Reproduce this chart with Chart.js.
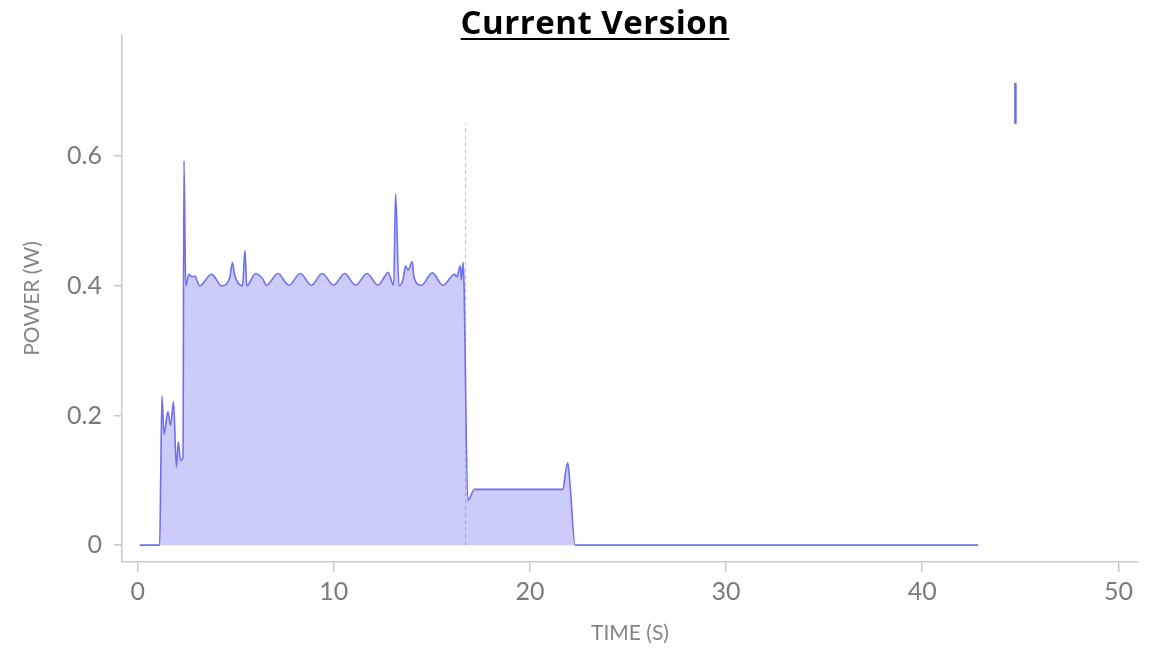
<!DOCTYPE html>
<html>
<head>
<meta charset="utf-8">
<script src="https://cdn.jsdelivr.net/npm/chart.js@4"></script>
<style>
  body{margin:0;background:#fff;}
  #wrap{position:relative;width:1153px;height:651px;}
  #title{position:absolute;top:0;left:0;width:1190px;text-align:center;
    font-family:"Open Sans",sans-serif;font-weight:bold;font-size:33px;color:#000;letter-spacing:0.5px;
    text-decoration:underline;text-decoration-thickness:2px;text-underline-offset:4px;line-height:44px;}
</style>
</head>
<body>
<div id="wrap">
  <div id="title">Current Version</div>
  <canvas id="mychart"></canvas>
</div>
<script>
// time (s) and power (W)
const Time=[0.10,1.12,1.18,1.24,1.34,1.54,1.67,1.83,1.97,2.07,2.19,2.31,2.36,2.45,2.61,2.77,2.91,3.16,3.76,3.92,4.27,4.69,4.83,4.94,5.34,5.47,5.56,6.01,6.39,6.56,7.15,7.71,8.29,8.85,9.41,9.99,10.55,11.11,11.69,12.25,12.60,12.76,13.05,13.15,13.32,13.52,13.66,13.78,14.00,14.08,14.46,15.02,15.56,16.16,16.27,16.45,16.50,16.60,16.64,16.83,17.18,21.68,21.81,21.93,22.05,22.30,42.85]
const Power=[0,0,0.12,0.230,0.171,0.206,0.185,0.221,0.120,0.159,0.131,0.135,0.593,0.400,0.418,0.414,0.415,0.400,0.418,0.414,0.400,0.412,0.436,0.417,0.400,0.454,0.400,0.419,0.410,0.401,0.419,0.401,0.419,0.401,0.419,0.401,0.419,0.401,0.419,0.401,0.415,0.421,0.401,0.542,0.400,0.409,0.431,0.424,0.437,0.414,0.401,0.420,0.401,0.418,0.414,0.431,0.409,0.436,0.400,0.069,0.086,0.086,0.112,0.127,0.090,0,0]

const CursorTime=[16.72,16.72]
const CursorPower=[0,0.65]
const MarkTime=[44.75,44.75]
const MarkPower=[0.65,0.713]

const XTicks=[0,10,20,30,40,50]
const YTicks=[0,0.2,0.4,0.6]

const pts=(xs,ys)=>xs.map((x,i)=>({x:x,y:ys[i]}))

const tickFont={family:"Lato",size:25}
const titleFont={family:"Lato",size:21}

new Chart("mychart",{
    type:"line",
    data:{
        datasets:[{
                label:"Power",
                data:pts(Time,Power),
                borderColor:"#6f6ff0",
                backgroundColor:"rgba(110,110,240,0.35)",
                borderWidth:1.6,
                fill:"origin",
                cubicInterpolationMode:"monotone",
                pointRadius:0,
            },
            {
                label:"cursor",
                data:pts(CursorTime,CursorPower),
                borderColor:"#bdbdbd",
                borderWidth:1,
                borderDash:[4,3],
                fill:false,
                pointRadius:0,
            },
            {
                label:"marker",
                data:pts(MarkTime,MarkPower),
                borderColor:"#6a6af0",
                borderWidth:2.5,
                fill:false,
                pointRadius:0,
            },
        ],
    },
    options:{
        responsive:true,
        maintainAspectRatio:false,
        animation:false,
        layout:{padding:{left:0,right:15,top:35,bottom:0}},
        plugins:{legend:{display:false},tooltip:{enabled:false}},
        scales:{
            x:{
                type:"linear",
                min:-0.8,
                max:51,
                afterBuildTicks:s=>{s.ticks=XTicks.map(v=>({value:v}))},
                afterFit:s=>{s.height=89},
                ticks:{font:tickFont,color:"#7a7a7a",padding:5,maxRotation:0,callback:v=>String(v)},
                grid:{drawOnChartArea:false,drawTicks:true,tickLength:10,color:"#c8c8c8",lineWidth:1.5},
                border:{display:true,color:"#c8c8c8",width:1.5},
                title:{display:true,text:"TIME (S)",font:titleFont,color:"#858585",padding:{top:0,bottom:5}},
            },
            y:{
                min:-0.026,
                max:0.787,
                afterBuildTicks:s=>{s.ticks=YTicks.map(v=>({value:v}))},
                afterFit:s=>{s.width=122},
                ticks:{font:tickFont,color:"#7a7a7a",padding:12,callback:v=>String(v)},
                grid:{drawOnChartArea:false,drawTicks:true,tickLength:8,color:"#c8c8c8",lineWidth:1.5},
                border:{display:true,color:"#c8c8c8",width:1.5},
                title:{display:true,text:"POWER (W)",font:titleFont,color:"#858585",padding:{top:20,bottom:0}},
            },
        },
    },
});
</script>
</body>
</html>
